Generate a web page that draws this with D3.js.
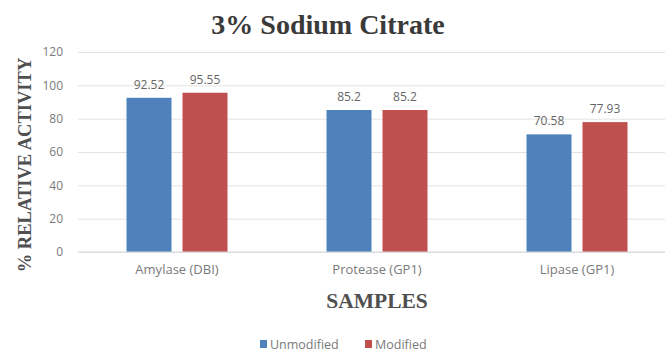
<!DOCTYPE html>
<html>
<head>
<meta charset="utf-8">
<script src="https://cdn.jsdelivr.net/npm/d3@7"></script>
<style>
  html, body { margin: 0; padding: 0; background: #fff; }
  svg { display: block; }
</style>
</head>
<body>
<svg id="chart" width="665" height="351"></svg>
<script>
// Enzyme samples and relative activity (%) after 3% sodium citrate treatment
const categories = ["Amylase (DBI)", "Protease (GP1)", "Lipase (GP1)"];
const seriesNames = ["Unmodified", "Modified"];
const unmodified = [92.52, 85.2, 70.58];
const modified = [95.55, 85.2, 77.93];
const valueLabels = [["92.52", "95.55"], ["85.2", "85.2"], ["70.58", "77.93"]];
const yTicks = [0, 20, 40, 60, 80, 100, 120];
const colors = ["#4F81BD", "#C0504D"];

const seriesValues = [unmodified, modified];
const rows = categories.map((c, i) => ({
  category: c,
  bars: seriesNames.map((s, j) => ({ series: s, value: seriesValues[j][i], label: valueLabels[i][j], color: colors[j] }))
}));

const sans = "'Open Sans', 'Liberation Sans', sans-serif";
const serif = "'Liberation Serif', 'Times New Roman', serif";

const svg = d3.select("#chart");
const plot = { left: 78, right: 678, top: 52, bottom: 252 };

const y = d3.scaleLinear().domain([0, 120]).range([plot.bottom, plot.top]);
const x0 = d3.scaleBand().domain(categories).range([plot.left - 1, plot.right - 1])
  .paddingInner(0.495).paddingOuter(0.2475);
const x1 = d3.scaleBand().domain(seriesNames).range([0, x0.bandwidth()]).paddingInner(0.196);

// Horizontal gridlines and value ticks
const yAxis = d3.axisLeft(y).tickValues(yTicks).tickSize(-(665 - plot.left)).tickPadding(15);
const gy = svg.append("g").attr("transform", `translate(${plot.left},0)`).call(yAxis);
gy.select(".domain").remove();
gy.selectAll(".tick line").attr("stroke", "#e3e3e3").attr("stroke-width", 1);
gy.selectAll(".tick text")
  .attr("fill", "#7a7a7a")
  .style("font-family", sans)
  .style("font-size", "12px");

// Bars
const groups = svg.append("g").selectAll("g").data(rows).join("g")
  .attr("transform", d => `translate(${x0(d.category)},0)`);

groups.selectAll("rect").data(d => d.bars).join("rect")
  .attr("x", d => x1(d.series))
  .attr("y", d => y(d.value))
  .attr("width", x1.bandwidth())
  .attr("height", d => y(0) - y(d.value))
  .attr("fill", d => d.color);

groups.selectAll("text.val").data(d => d.bars).join("text")
  .attr("class", "val")
  .attr("x", d => x1(d.series) + x1.bandwidth() / 2)
  .attr("y", d => y(d.value) - 9)
  .attr("text-anchor", "middle")
  .attr("fill", "#666")
  .style("font-family", sans)
  .style("font-size", "12px")
  .text(d => d.label);

// Category axis
const xAxis = d3.axisBottom(x0).tickSize(0).tickPadding(13);
const gx = svg.append("g").attr("transform", `translate(0,${plot.bottom})`).call(xAxis);
gx.select(".domain").attr("stroke", "#d9d9d9").attr("d", `M${plot.left},0H665`);
gx.selectAll(".tick text")
  .attr("fill", "#7a7a7a")
  .style("font-family", sans)
  .style("font-size", "13px");

// Title
svg.append("text")
  .attr("x", 328).attr("y", 34)
  .attr("text-anchor", "middle")
  .attr("fill", "#3a3a3a")
  .style("font-family", serif)
  .style("font-weight", "bold")
  .style("font-size", "28px")
  .text("3% Sodium Citrate");

// Axis titles
svg.append("text")
  .attr("transform", "translate(31,165) rotate(-90)")
  .attr("text-anchor", "middle")
  .attr("fill", "#505050")
  .style("font-family", serif)
  .style("font-weight", "bold")
  .style("font-size", "18.5px")
  .text("% RELATIVE ACTIVITY");

svg.append("text")
  .attr("x", 377).attr("y", 308)
  .attr("text-anchor", "middle")
  .attr("fill", "#505050")
  .style("font-family", serif)
  .style("font-weight", "bold")
  .style("font-size", "21.5px")
  .text("SAMPLES");

// Legend
const legendX = [260, 365];
const legend = svg.append("g").selectAll("g").data(seriesNames).join("g")
  .attr("transform", (d, i) => `translate(${legendX[i]},344)`);
legend.append("rect").attr("x", 0).attr("y", -4).attr("width", 7).attr("height", 8)
  .attr("fill", (d, i) => colors[i]);
legend.append("text").attr("x", 10).attr("y", 4.5)
  .attr("fill", "#7a7a7a")
  .style("font-family", sans)
  .style("font-size", "12.5px")
  .text(d => d);
</script>
</body>
</html>
